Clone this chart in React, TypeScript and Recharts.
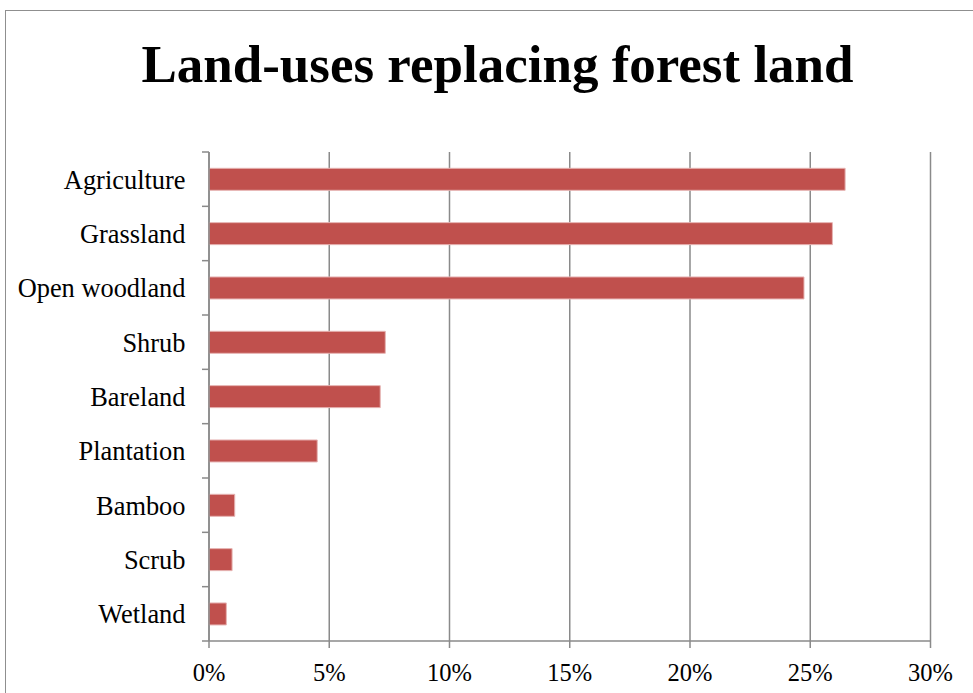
import React from "react";
import { BarChart, Bar, XAxis, YAxis, CartesianGrid } from "recharts";

const categories = ["Agriculture", "Grassland", "Open woodland", "Shrub", "Bareland", "Plantation", "Bamboo", "Scrub", "Wetland"];
const values = [26.45, 25.92, 24.74, 7.33, 7.12, 4.5, 1.07, 0.96, 0.72];
const xTicks = [0, 5, 10, 15, 20, 25, 30];

const data = categories.map((c, i) => ({ name: c, value: values[i] }));

const GRAY = "#8a8a8a";
const FONT = "'Liberation Serif', 'Times New Roman', serif";

const YTick = (props: any) => {
  const { x, y, payload, index, visibleTicksCount } = props;
  const off = payload.offset || 0;
  const ax = x + 23;
  return (
    <g>
      <line x1={ax - 7} x2={ax} y1={y - off} y2={y - off} stroke={GRAY} strokeWidth={1.5} />
      {index === visibleTicksCount - 1 && (
        <line x1={ax - 7} x2={ax} y1={y + off} y2={y + off} stroke={GRAY} strokeWidth={1.5} />
      )}
      <text x={x - 0.5} y={y} dy="0.355em" textAnchor="end" fontFamily={FONT} fontSize={26.4} fill="#000">
        {payload.value}
      </text>
    </g>
  );
};

export default function App() {
  return (
    <div style={{ position: "absolute", left: 0, top: 0, width: 973, height: 693, overflow: "hidden", background: "#fff" }}>
      <div style={{ position: "absolute", left: 5, top: 10, width: 1200, height: 1000, border: "1.5px solid #8f8f8f" }} />
      <div
        style={{
          position: "absolute",
          left: 0,
          top: 37.6,
          width: 995,
          textAlign: "center",
          fontFamily: FONT,
          fontWeight: "bold",
          fontSize: 53,
          lineHeight: "53px",
          color: "#000",
        }}
      >
        Land-uses replacing forest land
      </div>
      <div style={{ position: "absolute", left: 0, top: 0 }}>
        <BarChart
          width={973}
          height={693}
          data={data}
          layout="vertical"
          margin={{ top: 152, right: 42.5, bottom: 0, left: 0 }}
          barCategoryGap="30%"
        >
          <CartesianGrid horizontal={false} vertical={true} stroke={GRAY} strokeWidth={1.5} />
          <XAxis
            type="number"
            domain={[0, 30]}
            ticks={xTicks}
            interval={0}
            height={52}
            tickSize={7}
            tickMargin={16}
            tickFormatter={(v: number) => `${v}%`}
            axisLine={{ stroke: GRAY, strokeWidth: 1.5 }}
            tickLine={{ stroke: GRAY, strokeWidth: 1.5 }}
            tick={{ fill: "#000", fontFamily: FONT, fontSize: 24.5 }}
          />
          <YAxis
            type="category"
            dataKey="name"
            width={209}
            tickSize={7}
            tickMargin={16}
            interval={0}
            tickLine={false}
            axisLine={{ stroke: GRAY, strokeWidth: 1.5 }}
            tick={<YTick />}
          />
          <Bar dataKey="value" fill="#C0504D" stroke="#E6B3B2" strokeWidth={1} isAnimationActive={false} />
        </BarChart>
      </div>
    </div>
  );
}
